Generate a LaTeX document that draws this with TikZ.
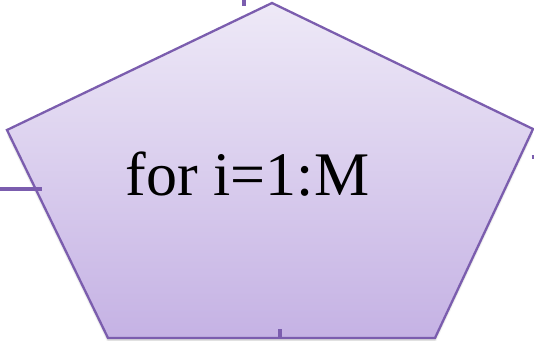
\documentclass[tikz,border=0pt]{standalone}
\usepackage{fontspec}
\setmainfont{Liberation Serif}
\definecolor{edgepurple}{HTML}{7B5DAE}
\definecolor{filltop}{HTML}{EEE9F7}
\definecolor{fillbot}{HTML}{C5B2E4}
\begin{document}
\begin{tikzpicture}[x=1pt,y=1pt,
  outline/.style={draw=edgepurple,line width=2.3pt,line join=miter},
  stub/.style={draw=edgepurple,line width=3.5pt},
  shadowlayer/.style={fill=black,draw=none}]
\useasboundingbox (0,0) rectangle (534,-340);
\coordinate (T) at (272,-3);
\coordinate (L) at (7,-130);
\coordinate (R) at (533,-129);
\coordinate (BL) at (108,-338);
\coordinate (BR) at (435,-338);
% soft shadow
\foreach \d/\o in {6/0.03,4.5/0.04,3/0.05,1.5/0.06}{
  \fill[shadowlayer,opacity=\o] ([yshift=-\d pt]T) -- ([yshift=-\d pt]R) -- ([yshift=-\d pt]BR) -- ([yshift=-\d pt]BL) -- ([yshift=-\d pt]L) -- cycle;
}
\shade[top color=filltop,bottom color=fillbot] (T) -- (R) -- (BR) -- (BL) -- (L) -- cycle;
\draw[outline] (T) -- (R) -- (BR) -- (BL) -- (L) -- cycle;
\node[anchor=base,inner sep=0pt] (label) at (247.5,-195) {\fontsize{62}{70}\selectfont for i=1:M};
% connector stubs
\coordinate (topA) at (244,0);
\coordinate (topB) at (244,-6);
\draw[stub] (topA) -- (topB);
\coordinate (leftA) at (0,-189);
\coordinate (leftB) at (42,-189);
\draw[stub] (leftA) -- (leftB);
\coordinate (rightA) at (531.5,-157);
\coordinate (rightB) at (534,-157);
\draw[stub] (rightA) -- (rightB);
\coordinate (botA) at (280,-329);
\coordinate (botB) at (280,-338);
\draw[stub,line width=4.5pt] (botA) -- (botB);
\end{tikzpicture}
\end{document}
